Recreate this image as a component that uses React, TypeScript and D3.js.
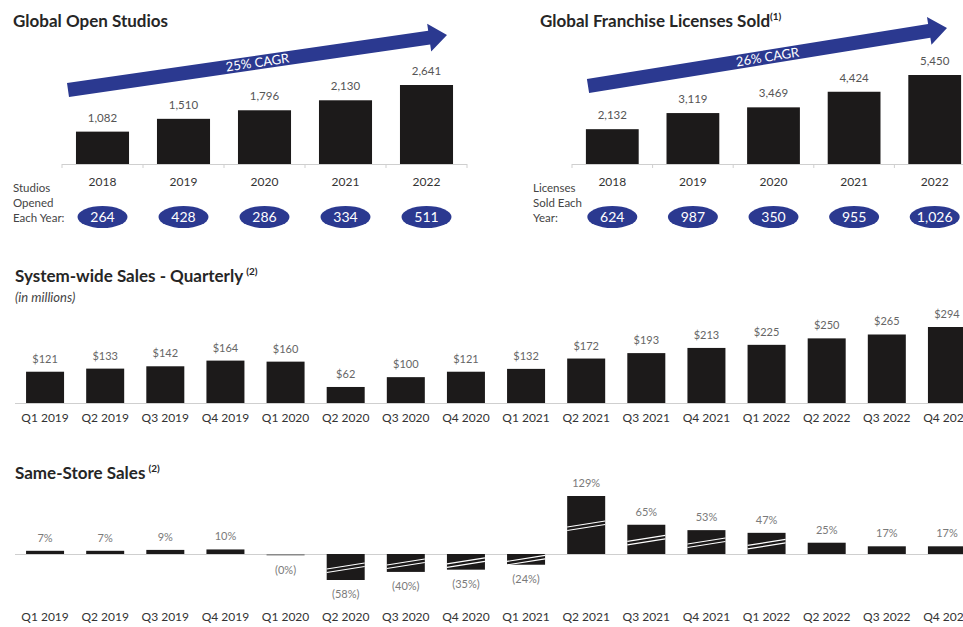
import * as d3 from 'd3';

// ---- data ----
const studioYears = ['2018', '2019', '2020', '2021', '2022'];
const openStudios = [1082, 1510, 1796, 2130, 2641];
const studiosOpened = [264, 428, 286, 334, 511];

const licenseYears = ['2018', '2019', '2020', '2021', '2022'];
const licensesTotal = [2132, 3119, 3469, 4424, 5450];
const licensesSold = [624, 987, 350, 955, 1026];

const quarters = [
  'Q1 2019', 'Q2 2019', 'Q3 2019', 'Q4 2019',
  'Q1 2020', 'Q2 2020', 'Q3 2020', 'Q4 2020',
  'Q1 2021', 'Q2 2021', 'Q3 2021', 'Q4 2021',
  'Q1 2022', 'Q2 2022', 'Q3 2022', 'Q4 2022',
];
const systemSales = [121, 133, 142, 164, 160, 62, 100, 121, 132, 172, 193, 213, 225, 250, 265, 294];
const sameStoreSales = [7, 7, 9, 10, -0.3, -58, -40, -35, -24, 129, 65, 53, 47, 25, 17, 17];
// bars drawn with an axis break on the slide
const brokenQuarters = ['Q2 2020', 'Q3 2020', 'Q4 2020', 'Q1 2021', 'Q2 2021', 'Q3 2021', 'Q4 2021', 'Q1 2022'];

const FONT = "Lato, 'Open Sans', sans-serif";
const BAR = '#1c1a1a';
const NAVY = '#2b3990';
const AXIS = '#cfcfcf';
const fmt = d3.format(',');

type Pt = [number, number];

function arrowPath(start: Pt, tip: Pt, halfW: number, headLen: number, headHalf: number) {
  const dx = tip[0] - start[0];
  const dy = tip[1] - start[1];
  const len = Math.hypot(dx, dy);
  const ux = dx / len, uy = dy / len;
  const nx = -uy, ny = ux;
  const bx = tip[0] - ux * headLen, by = tip[1] - uy * headLen;
  const pts: Pt[] = [
    [start[0] + nx * halfW, start[1] + ny * halfW],
    [bx + nx * halfW, by + ny * halfW],
    [bx + nx * headHalf, by + ny * headHalf],
    tip,
    [bx - nx * headHalf, by - ny * headHalf],
    [bx - nx * halfW, by - ny * halfW],
    [start[0] - nx * halfW, start[1] - ny * halfW],
  ];
  return d3.line()(pts) + 'Z';
}

interface YearPanelProps {
  title: string;
  sup: string;
  titleX: number;
  years: string[];
  totals: number[];
  annual: number[];
  sideLabel: string[];
  sideX: number;
  xRange: [number, number];
  yTopAt: number;
  arrowStart: Pt;
  arrowTip: Pt;
  cagr: string;
}

function YearPanel(p: YearPanelProps) {
  const x = d3.scaleBand<string>().domain(p.years).range(p.xRange).paddingInner(0.345).paddingOuter(0.1725);
  const y = d3.scaleLinear().domain([0, d3.max(p.totals)!]).range([164, p.yTopAt]);
  const base = y(0);
  const ang = (Math.atan2(p.arrowTip[1] - p.arrowStart[1], p.arrowTip[0] - p.arrowStart[0]) * 180) / Math.PI;
  const mid: Pt = [(p.arrowStart[0] + p.arrowTip[0]) / 2, (p.arrowStart[1] + p.arrowTip[1]) / 2];
  return (
    <g fontFamily={FONT}>
      <text x={p.titleX} y={27} fontSize={17} fontWeight={700} fill="#262626">
        {p.title}
        <tspan fontSize={10} dy={-7}>{p.sup}</tspan>
      </text>
      <path d={arrowPath(p.arrowStart, p.arrowTip, 7, 18, 14)} fill={NAVY} />
      <text
        transform={`translate(${mid[0]},${mid[1]}) rotate(${ang})`}
        textAnchor="middle"
        dy={4.5}
        fontSize={13}
        fill="#fff"
      >
        {p.cagr}
      </text>
      <line x1={p.xRange[0]} x2={p.xRange[1]} y1={base + 0.5} y2={base + 0.5} stroke={AXIS} />
      {p.years.map((yr, i) => {
        const bx = x(yr)!;
        const cx = bx + x.bandwidth() / 2;
        const v = p.totals[i];
        return (
          <g key={yr}>
            <line x1={bx - x.step() * 0.1725} x2={bx - x.step() * 0.1725} y1={base} y2={base + 4} stroke={AXIS} />
            <rect x={bx} y={y(v)} width={x.bandwidth()} height={base - y(v)} fill={BAR} />
            <text x={cx} y={y(v) - 10} textAnchor="middle" fontSize={11.5} fill="#555">
              {fmt(v)}
            </text>
            <text x={cx} y={186} textAnchor="middle" fontSize={12} fill="#333">
              {yr}
            </text>
            <ellipse cx={cx} cy={217} rx={25} ry={11} fill={NAVY} />
            <text x={cx} y={222} textAnchor="middle" fontSize={14} fill="#fff">
              {fmt(p.annual[i])}
            </text>
          </g>
        );
      })}
      <line x1={p.xRange[1]} x2={p.xRange[1]} y1={base} y2={base + 4} stroke={AXIS} />
      {p.sideLabel.map((s, i) => (
        <text key={s} x={p.sideX} y={192 + i * 15} fontSize={11.5} fill="#444">
          {s}
        </text>
      ))}
    </g>
  );
}

function SalesPanel() {
  const x = d3.scaleBand<string>().domain(quarters).range([15, 977]).paddingInner(0.368).paddingOuter(0.184);
  const y = d3.scaleLinear().domain([0, d3.max(systemSales)!]).range([403, 327]);
  const base = y(0);
  return (
    <g fontFamily={FONT}>
      <text x={15} y={282} fontSize={17} fontWeight={700} fill="#262626">
        System-wide Sales - Quarterly
        <tspan fontSize={10} dx={3} dy={-7}>(2)</tspan>
      </text>
      <text x={15} y={302} fontSize={13} fontStyle="italic" fill="#444">
        (in millions)
      </text>
      <line x1={15} x2={963} y1={base + 0.5} y2={base + 0.5} stroke={AXIS} />
      {quarters.map((q, i) => {
        const bx = x(q)!;
        const cx = bx + x.bandwidth() / 2;
        const v = systemSales[i];
        return (
          <g key={q}>
            <rect x={bx} y={y(v)} width={x.bandwidth()} height={base - y(v)} fill={BAR} />
            <text x={cx} y={y(v) - 9} textAnchor="middle" fontSize={11} fill="#666">
              ${v}
            </text>
            <text x={cx} y={422} textAnchor="middle" fontSize={12} fill="#333">
              {q}
            </text>
          </g>
        );
      })}
    </g>
  );
}

function SameStorePanel() {
  const x = d3.scaleBand<string>().domain(quarters).range([15, 977]).paddingInner(0.368).paddingOuter(0.184);
  const y = d3.scaleLinear().domain([-58, 129]).range([580, 496]);
  const zero = Math.round(y(0));
  const label = (v: number) => (v < 0 ? `(${Math.abs(Math.round(v))}%)` : `${v}%`);
  return (
    <g fontFamily={FONT}>
      <text x={15} y={479} fontSize={17} fontWeight={700} fill="#262626">
        Same-Store Sales
        <tspan fontSize={10} dx={3} dy={-7}>(2)</tspan>
      </text>
      <line x1={15} x2={963} y1={zero + 0.5} y2={zero + 0.5} stroke={AXIS} />
      {quarters.map((q, i) => {
        const bx = x(q)!;
        const w = x.bandwidth();
        const cx = bx + w / 2;
        const v = sameStoreSales[i];
        const top = v >= 0 ? y(v) : zero;
        const h = Math.max(1.5, Math.abs(y(v) - zero));
        const bottom = top + h;
        const broken = brokenQuarters.includes(q);
        const my = top + h / 2;
        return (
          <g key={q}>
            <rect x={bx} y={top} width={w} height={h} fill={v > -1 && v < 0 ? '#8a8a8a' : BAR} />
            {broken && (
              <g stroke="#fff" strokeWidth={1.1}>
                <line x1={bx} y1={my + 2} x2={bx + w} y2={my - 4} />
                <line x1={bx} y1={my + 5.5} x2={bx + w} y2={my - 0.5} />
              </g>
            )}
            <text
              x={cx}
              y={v >= 0 ? top - 9 : bottom + 18}
              textAnchor="middle"
              fontSize={11}
              fill="#7a7a7a"
            >
              {label(v)}
            </text>
            <text x={cx} y={621} textAnchor="middle" fontSize={12} fill="#333">
              {q}
            </text>
          </g>
        );
      })}
    </g>
  );
}

export default function App() {
  return (
    <svg
      width={963}
      height={627}
      viewBox="0 0 963 627"
      style={{ position: 'absolute', left: 0, top: 0, background: '#fff' }}
    >
      <rect width={963} height={627} fill="#fff" />
      <YearPanel
        title="Global Open Studios"
        sup=""
        titleX={13}
        years={studioYears}
        totals={openStudios}
        annual={studiosOpened}
        sideLabel={['Studios', 'Opened', 'Each Year:']}
        sideX={13}
        xRange={[62, 467]}
        yTopAt={85}
        arrowStart={[68, 90]}
        arrowTip={[447, 35]}
        cagr="25% CAGR"
      />
      <YearPanel
        title="Global Franchise Licenses Sold"
        sup="(1)"
        titleX={540}
        years={licenseYears}
        totals={licensesTotal}
        annual={licensesSold}
        sideLabel={['Licenses', 'Sold Each', 'Year:']}
        sideX={533}
        xRange={[572, 975]}
        yTopAt={75}
        arrowStart={[588, 86]}
        arrowTip={[947, 28]}
        cagr="26% CAGR"
      />
      <SalesPanel />
      <SameStorePanel />
    </svg>
  );
}
